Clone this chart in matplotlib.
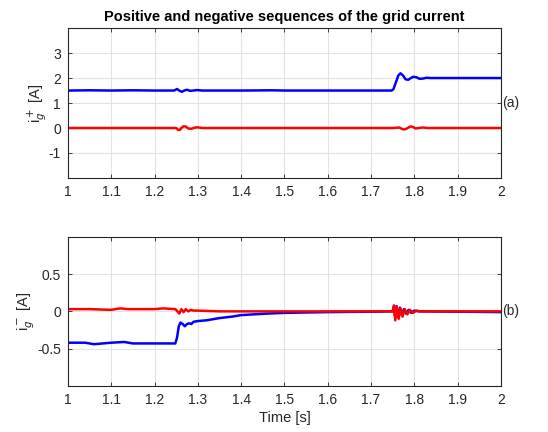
import numpy as np
import matplotlib.pyplot as plt
from matplotlib.ticker import FuncFormatter

plt.rcParams['font.family'] = ['Liberation Sans', 'DejaVu Sans']
plt.rcParams['axes.unicode_minus'] = False

# positive sequence (top)
t_pos_blue = [1.0, 1.05, 1.1, 1.15, 1.2, 1.245, 1.252, 1.257, 1.263, 1.27, 1.275, 1.282,
              1.29, 1.298, 1.31, 1.4, 1.47, 1.5, 1.6, 1.7, 1.748, 1.752, 1.758, 1.763,
              1.768, 1.774, 1.78, 1.786, 1.792, 1.798, 1.805, 1.812, 1.82, 1.828, 1.84,
              1.9, 2.0]
i_pos_blue = [1.5, 1.51, 1.5, 1.51, 1.5, 1.5, 1.56, 1.5, 1.45, 1.51, 1.53, 1.49,
              1.5, 1.52, 1.5, 1.5, 1.51, 1.5, 1.5, 1.5, 1.5, 1.56, 1.85, 2.1,
              2.19, 2.1, 1.95, 1.93, 2.0, 2.05, 2.03, 1.97, 1.98, 2.01, 2.0,
              2.0, 2.0]
t_pos_red = [1.0, 1.25, 1.254, 1.258, 1.262, 1.267, 1.272, 1.278, 1.285, 1.292, 1.298,
             1.31, 1.75, 1.765, 1.775, 1.782, 1.79, 1.796, 1.803, 1.81, 1.82, 1.83, 2.0]
i_pos_red = [0.0, 0.0, -0.07, -0.08, 0.0, 0.07, 0.06, -0.02, -0.03, 0.01, 0.03,
             0.0, 0.0, 0.02, -0.06, -0.03, 0.06, 0.05, -0.02, 0.0, 0.02, 0.0, 0.0]

# negative sequence (bottom)
t_neg_blue = [1.0, 1.04, 1.06, 1.08, 1.1, 1.13, 1.15, 1.2, 1.248, 1.252, 1.256, 1.26,
              1.265, 1.27, 1.275, 1.28, 1.285, 1.29, 1.3, 1.32, 1.35, 1.38, 1.4, 1.43,
              1.46, 1.5, 1.55, 1.6, 1.7, 1.75, 1.753, 1.756, 1.759, 1.763, 1.767, 1.771,
              1.776, 1.781, 1.787, 1.793, 1.8, 1.81, 2.0]
i_neg_blue = [-0.42, -0.42, -0.44, -0.43, -0.42, -0.41, -0.43, -0.43, -0.43, -0.35, -0.2, -0.15,
              -0.17, -0.2, -0.17, -0.16, -0.17, -0.14, -0.13, -0.12, -0.09, -0.07, -0.05, -0.04,
              -0.03, -0.02, -0.015, -0.01, -0.005, 0.0, 0.05, -0.08, 0.07, -0.08, 0.05, -0.05,
              0.03, -0.03, 0.02, -0.02, 0.01, 0.0, -0.01]
t_neg_red = [1.0, 1.05, 1.1, 1.12, 1.14, 1.2, 1.22, 1.248, 1.253, 1.257, 1.262, 1.267,
             1.272, 1.278, 1.284, 1.29, 1.3, 1.35, 1.5, 1.75, 1.753, 1.756, 1.76, 1.764,
             1.768, 1.773, 1.778, 1.784, 1.79, 1.797, 1.805, 1.815, 2.0]
i_neg_red = [0.03, 0.03, 0.02, 0.04, 0.03, 0.03, 0.04, 0.03, 0.0, -0.03, 0.03, -0.01,
             0.03, 0.0, 0.02, 0.01, 0.01, 0.0, 0.0, 0.0, 0.08, -0.12, 0.06, -0.1,
             0.04, -0.07, 0.03, -0.04, 0.02, -0.02, 0.01, 0.0, 0.0]

xticks = np.round(np.arange(1.0, 2.01, 0.1), 1)

fig = plt.figure(figsize=(5.48, 4.32), dpi=100)
ax1 = fig.add_axes([0.124, 0.588, 0.790, 0.347])
ax2 = fig.add_axes([0.124, 0.1065, 0.790, 0.3455])

dark = '#262626'
fmt = FuncFormatter(lambda v, p: f'{v:g}')
for ax in (ax1, ax2):
    ax.set_xlim(1, 2)
    ax.set_xticks(xticks)
    ax.xaxis.set_major_formatter(fmt)
    ax.grid(True, color='#e3e3e3', linewidth=0.8)
    ax.set_axisbelow(True)
    ax.tick_params(direction='in', length=3, width=0.6, colors=dark,
                   labelsize=10, top=True, right=True, pad=5)
    for s in ax.spines.values():
        s.set_color(dark)
        s.set_linewidth(0.8)

ax1.plot(t_pos_blue, i_pos_blue, color='blue', lw=1.8)
ax1.plot(t_pos_red, i_pos_red, color='red', lw=1.8)
ax1.set_ylim(-2, 4)
ax1.set_yticks([-1, 0, 1, 2, 3])
ax1.set_ylabel('i$_g^+$ [A]', fontsize=10.5, color=dark, labelpad=0)
ax1.set_title('Positive and negative sequences of the grid current',
              fontsize=10.5, fontweight='bold', pad=5)
ax1.text(1.003, 1, '(a)', transform=ax1.get_yaxis_transform(), va='center',
         ha='left', fontsize=10, color=dark)

ax2.plot(t_neg_blue, i_neg_blue, color='blue', lw=1.8)
ax2.plot(t_neg_red, i_neg_red, color='red', lw=1.8)
ax2.set_ylim(-1, 1)
ax2.set_yticks([-0.5, 0, 0.5])
ax2.yaxis.set_major_formatter(fmt)
ax2.set_ylabel('i$_g^-$ [A]', fontsize=10.5, color=dark, labelpad=0)
ax2.set_xlabel('Time [s]', fontsize=10.5, color=dark, labelpad=3)
ax2.text(1.003, 0, '(b)', transform=ax2.get_yaxis_transform(), va='center',
         ha='left', fontsize=10, color=dark)

fig.savefig('out.png', dpi=100)
